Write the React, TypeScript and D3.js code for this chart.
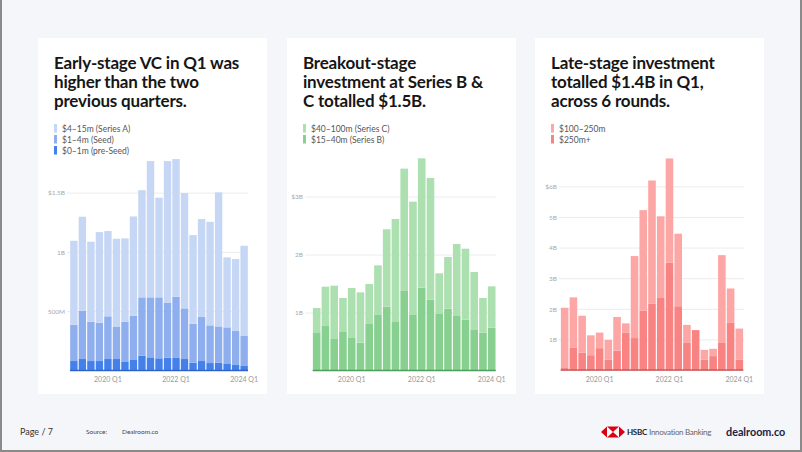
import React from "react";
import * as d3 from "d3";

const quarters = [
  "2019 Q1","2019 Q2","2019 Q3","2019 Q4",
  "2020 Q1","2020 Q2","2020 Q3","2020 Q4",
  "2021 Q1","2021 Q2","2021 Q3","2021 Q4",
  "2022 Q1","2022 Q2","2022 Q3","2022 Q4",
  "2023 Q1","2023 Q2","2023 Q3","2023 Q4",
  "2024 Q1",
];
const xTickLabels = ["2020 Q1", "2022 Q1", "2024 Q1"];

// Early stage ($M)
const earlyPreSeed = [84,101,84,84,101,101,76,98,129,115,107,112,110,101,70,84,67,70,59,51,42];
const earlySeed = [306,407,332,323,360,270,340,368,492,506,514,464,516,427,329,371,318,306,309,286,253];
const earlySeriesA = [708,793,674,764,719,744,702,837,904,1149,840,1194,1161,972,747,826,873,1130,590,607,761];
const earlyTicks = [500, 1000, 1500];
const earlyTickLabels = ["500M", "1B", "$1.5B"];

// Breakout stage ($M)
const breakoutSeriesB = [667,787,552,672,569,489,810,977,1109,845,1391,977,1437,1230,983,1075,948,885,707,661,747];
const breakoutSeriesC = [419,667,919,587,862,867,690,845,1334,1776,2098,1943,2230,2098,701,891,1242,1224,1000,598,713];
const breakoutTicks = [1000, 2000, 3000];
const breakoutTickLabels = ["1B", "2B", "$3B"];

// Late stage ($M)
const late250Plus = [80,740,580,500,730,350,650,1230,1060,1960,2180,2370,3520,2100,900,1320,350,470,900,1570,350];
const late100to250 = [1970,1650,1210,650,510,650,1100,310,2680,3280,4030,2670,3410,2370,590,0,325,240,2870,1110,1020];
const lateTicks = [1000, 2000, 3000, 4000, 5000, 6000];
const lateTickLabels = ["1B", "2B", "3B", "4B", "5B", "$6B"];

type Panel = {
  cardX: number;
  title: string[];
  series: { name: string; values: number[]; color: string }[]; // bottom to top
  legendOrder: number[];
  ticks: number[];
  tickLabels: string[];
  x0: number; x1: number;
  base: number; yMax: number; yTop: number;
  gridX0: number; gridX1: number;
  baseColor: string;
};

const panels: Panel[] = [
  {
    cardX: 38,
    title: ["Early-stage VC in Q1 was", "higher than the two", "previous quarters."],
    series: [
      { name: "$0–1m (pre-Seed)", values: earlyPreSeed, color: "#4380ea" },
      { name: "$1–4m (Seed)", values: earlySeed, color: "#8eaeee" },
      { name: "$4–15m (Series A)", values: earlySeriesA, color: "#c6d6f5" },
    ],
    legendOrder: [2, 1, 0],
    ticks: earlyTicks, tickLabels: earlyTickLabels,
    x0: 70, x1: 248, base: 371, yMax: 2000, yTop: 371 - 237.2,
    gridX0: 67, gridX1: 248, baseColor: "#2f63cc",
  },
  {
    cardX: 287,
    title: ["Breakout-stage", "investment at Series B &", "C totalled $1.5B."],
    series: [
      { name: "$15–40m (Series B)", values: breakoutSeriesB, color: "#87d08f" },
      { name: "$40–100m (Series C)", values: breakoutSeriesC, color: "#ade0b0" },
    ],
    legendOrder: [1, 0],
    ticks: breakoutTicks, tickLabels: breakoutTickLabels,
    x0: 312.7, x1: 495.7, base: 371, yMax: 4000, yTop: 371 - 232,
    gridX0: 305, gridX1: 496, baseColor: "#4e9d5b",
  },
  {
    cardX: 535,
    title: ["Late-stage investment", "totalled $1.4B in Q1,", "across 6 rounds."],
    series: [
      { name: "$250m+", values: late250Plus, color: "#f98282" },
      { name: "$100–250m", values: late100to250, color: "#fda6a6" },
    ],
    legendOrder: [1, 0],
    ticks: lateTicks, tickLabels: lateTickLabels,
    x0: 560.7, x1: 743.3, base: 370.5, yMax: 7000, yTop: 370.5 - 214.2,
    gridX0: 559, gridX1: 744, baseColor: "#c95b5b",
  },
];

const FONT = "Lato, 'Open Sans', sans-serif";

function PanelView({ p }: { p: Panel }) {
  const x = d3.scaleBand<string>().domain(quarters).range([p.x0, p.x1]).paddingInner(0.13).paddingOuter(0.02);
  const y = d3.scaleLinear().domain([0, p.yMax]).range([p.base, p.yTop]);
  const table = quarters.map((q, i) => {
    const row: any = { q };
    p.series.forEach((s, k) => (row["s" + k] = s.values[i]));
    return row;
  });
  const stack = d3.stack<any>().keys(p.series.map((_, k) => "s" + k))(table);
  const tx = p.cardX + 16;
  return (
    <g>
      <rect x={p.cardX} y={38} width={229} height={356} fill="#ffffff" />
      {p.title.map((t, i) => (
        <text key={i} x={tx} y={69 + i * 19} fontFamily={FONT} fontWeight={700} fontSize={17} letterSpacing={-0.2} fill="#161616">
          {t}
        </text>
      ))}
      {p.legendOrder.map((k, i) => (
        <g key={k}>
          <rect x={tx} y={124 + i * 11} width={3} height={8.5} fill={p.series[k].color} />
          <text x={tx + 8} y={131.5 + i * 11} fontFamily={FONT} fontSize={8.5} fill="#555">
            {p.series[k].name}
          </text>
        </g>
      ))}
      {p.ticks.map((t, i) => (
        <g key={t}>
          <line x1={p.gridX0} x2={p.gridX1} y1={y(t)} y2={y(t)} stroke="#ececec" strokeWidth={1} />
          <text x={p.gridX0 - 2} y={y(t) + 2.3} textAnchor="end" fontFamily={FONT} fontSize={6.5} fill="#a8a8a8">
            {p.tickLabels[i]}
          </text>
        </g>
      ))}
      {stack.map((layer, k) => (
        <g key={k} fill={p.series[k].color}>
          {layer.map((d, i) => (
            <rect key={i} x={x(quarters[i])} width={x.bandwidth()} y={y(d[1])} height={Math.max(0, y(d[0]) - y(d[1]))} />
          ))}
        </g>
      ))}
      <line x1={p.x0} x2={p.x1} y1={p.base - 0.5} y2={p.base - 0.5} stroke={p.baseColor} strokeWidth={1.5} />
      {xTickLabels.map((l) => (
        <text key={l} x={(x(l) as number) + x.bandwidth() / 2} y={382} textAnchor="middle" fontFamily={FONT} fontSize={7} fill="#999">
          {l}
        </text>
      ))}
    </g>
  );
}

function HsbcLogo({ x, y }: { x: number; y: number }) {
  const w = 24, h = 11;
  const a = x, b = x + w / 4, c = x + (3 * w) / 4, d = x + w;
  const t = y, m = y + h / 2, bt = y + h;
  return (
    <g>
      <polygon points={`${a},${m} ${b},${t} ${b},${bt}`} fill="#db0011" />
      <polygon points={`${d},${m} ${c},${t} ${c},${bt}`} fill="#db0011" />
      <polygon points={`${b},${t} ${c},${t} ${(b + c) / 2},${m}`} fill="#db0011" />
      <polygon points={`${b},${bt} ${c},${bt} ${(b + c) / 2},${m}`} fill="#db0011" />
    </g>
  );
}

export default function App() {
  return (
    <svg width={802} height={452} style={{ position: "absolute", left: 0, top: 0 }}>
      <rect x={0} y={0} width={802} height={452} fill="#f5f6fa" />
      {panels.map((p, i) => (
        <PanelView key={i} p={p} />
      ))}
      <text x={20} y={435} fontFamily={FONT} fontSize={9} fill="#333">Page / 7</text>
      <text x={86} y={434} fontFamily={FONT} fontSize={6.5} fill="#444">Source:</text>
      <text x={122} y={434} fontFamily={FONT} fontSize={6.5} fill="#444">Dealroom.co</text>
      <HsbcLogo x={601} y={426.5} />
      <text x={627} y={435} fontFamily={FONT} fontSize={8} fontWeight={700} fill="#222" letterSpacing={-0.3}>HSBC</text>
      <text x={649} y={435} fontFamily={FONT} fontSize={8} fill="#666" letterSpacing={-0.3}>Innovation Banking</text>
      <text x={726} y={436} fontFamily={FONT} fontSize={10.8} fontWeight={700} fill="#1d2242">dealroom.co</text>
      <line x1={1} x2={1} y1={0} y2={452} stroke="#8a8a8a" strokeWidth={2} />
      <line x1={801} x2={801} y1={0} y2={452} stroke="#8a8a8a" strokeWidth={2} />
      <line x1={0} x2={802} y1={451} y2={451} stroke="#8a8a8a" strokeWidth={2} />
    </svg>
  );
}
